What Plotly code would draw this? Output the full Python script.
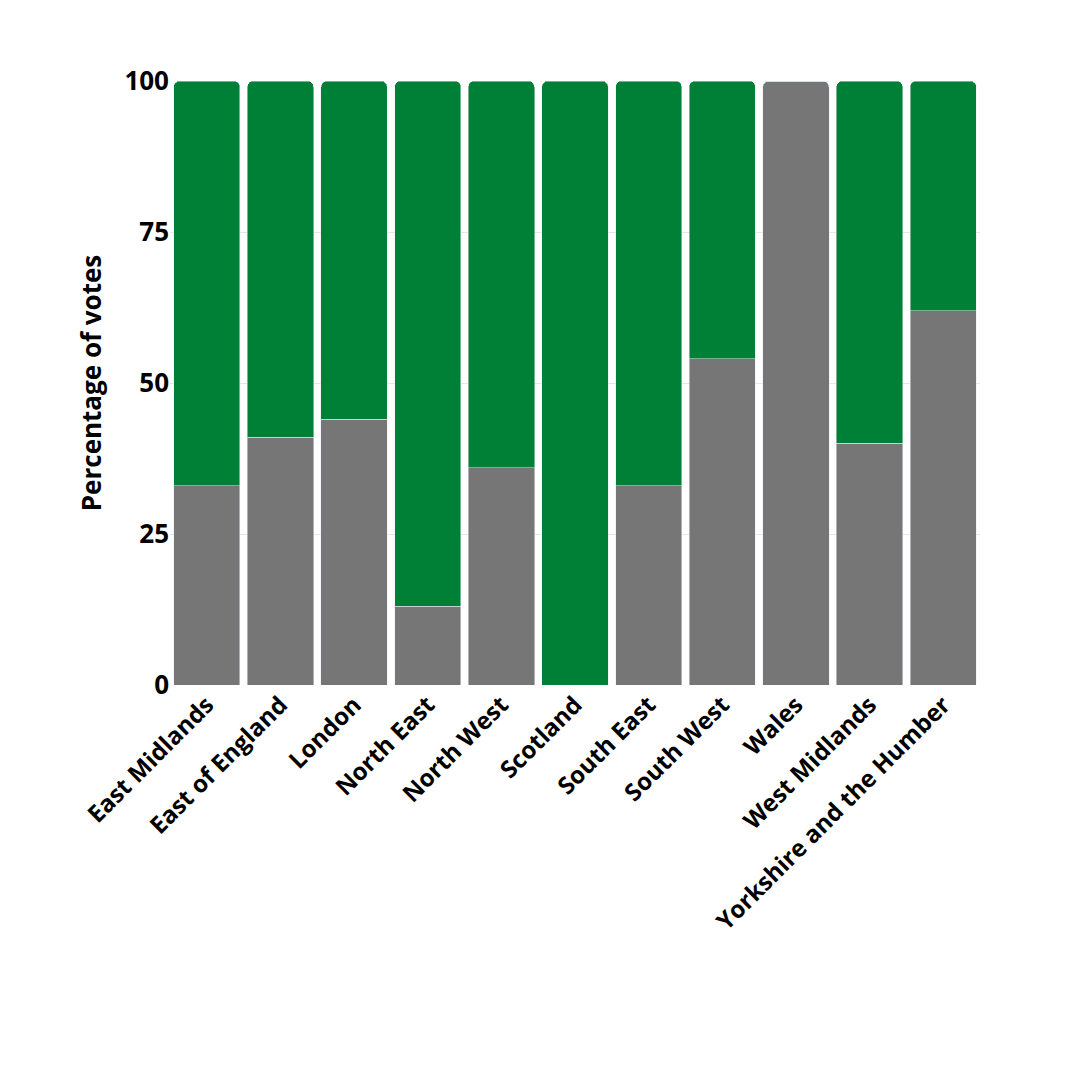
import plotly.graph_objects as go

regions = ["East Midlands", "East of England", "London", "North East", "North West",
           "Scotland", "South East", "South West", "Wales", "West Midlands",
           "Yorkshire and the Humber"]
grey_vals = [33, 41, 44, 13, 36, 0, 33, 54, 100, 40, 62]
green_vals = [67, 59, 56, 87, 64, 100, 67, 46, 0, 60, 38]

fig = go.Figure()
fig.add_bar(x=regions, y=grey_vals, marker_color="#767676", name="Other")
fig.add_bar(x=regions, y=green_vals, marker_color="#008037", name="Green")

fig.update_layout(
    barmode="stack", bargap=0.1, barcornerradius=6,
    width=1080, height=1080, showlegend=False,
    plot_bgcolor="white", paper_bgcolor="white",
    font=dict(family="Open Sans", size=24, color="black", weight="bold"),
    margin=dict(l=162, r=108, t=73, b=403),
)
fig.update_xaxes(tickangle=-45, tickfont=dict(size=24, weight="bold"), showgrid=False)
fig.update_yaxes(range=[0, 100], tickvals=[0, 25, 50, 75, 100], gridcolor="#e6e6e6",
                 title=dict(text="Percentage of votes", font=dict(size=26, weight="bold")),
                 tickfont=dict(size=26, weight="bold"), zeroline=False)
fig.write_html("out.html")
